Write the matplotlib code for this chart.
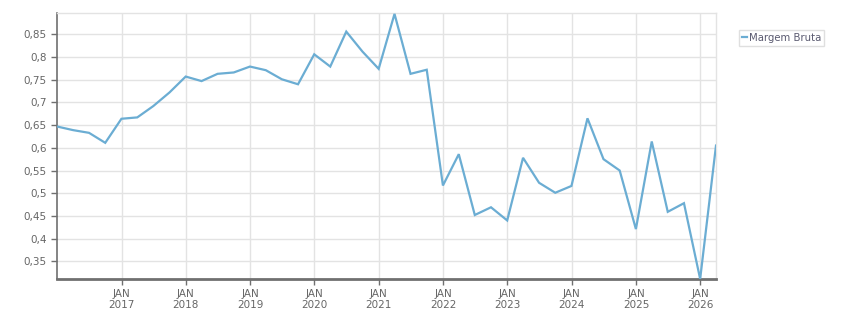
import datetime as dt
import matplotlib
matplotlib.use("Agg")
import matplotlib.pyplot as plt
from matplotlib.ticker import FuncFormatter

# quarterly gross margin, end of quarter from Q4 2015 to Q1 2026
start_year = 2015
start_quarter = 4
margem_bruta = [
    0.647, 0.639, 0.633, 0.611, 0.664, 0.667, 0.692, 0.722, 0.757, 0.747,
    0.763, 0.766, 0.779, 0.771, 0.751, 0.740, 0.806, 0.779, 0.856, 0.812,
    0.774, 0.895, 0.763, 0.772, 0.517, 0.586, 0.452, 0.469, 0.440, 0.578,
    0.523, 0.501, 0.516, 0.665, 0.575, 0.550, 0.421, 0.614, 0.459, 0.478,
    0.311, 0.605,
]
series_label = "Margem Bruta"
tick_years = list(range(2017, 2027))
y_ticks = [0.35, 0.4, 0.45, 0.5, 0.55, 0.6, 0.65, 0.7, 0.75, 0.8, 0.85]


def quarter_end(year, q):
    month = q * 3
    if month == 12:
        return dt.date(year, 12, 31)
    return dt.date(year, month + 1, 1) - dt.timedelta(days=1)


dates = []
y, q = start_year, start_quarter
for _ in margem_bruta:
    dates.append(quarter_end(y, q))
    q += 1
    if q > 4:
        q = 1
        y += 1

fig = plt.figure(figsize=(8.51, 3.13), dpi=100)
ax = fig.add_axes([57 / 851, 34 / 313, 659 / 851, 266 / 313])

line_color = "#6badd3"
grid_color = "#e3e3e3"
text_color = "#666666"
axis_color = "#707070"

ax.plot(dates, margem_bruta, color=line_color, lw=1.6, label=series_label,
        solid_joinstyle="miter", zorder=3)

ax.set_xlim(dates[0], dates[-1])
ax.set_ylim(0.311, 0.897)

ax.set_yticks(y_ticks)
ax.yaxis.set_major_formatter(FuncFormatter(
    lambda v, p: f"{v:.2f}".rstrip("0").rstrip(".").replace(".", ",")))
ax.set_xticks([dt.date(yr, 1, 1) for yr in tick_years])
ax.set_xticklabels([f"JAN\n{yr}" for yr in tick_years])

ax.grid(True, color=grid_color, lw=1)
ax.set_axisbelow(True)

ax.tick_params(axis="both", colors=axis_color, labelcolor=text_color,
               labelsize=7.5, length=4, width=1)
ax.tick_params(axis="x", pad=3)

for s in ("top", "right"):
    ax.spines[s].set_color(grid_color)
    ax.spines[s].set_linewidth(1)
ax.spines["left"].set_color(axis_color)
ax.spines["left"].set_linewidth(1.2)
ax.spines["bottom"].set_color(axis_color)
ax.spines["bottom"].set_linewidth(2)

leg = fig.legend(loc="upper left", bbox_to_anchor=(739 / 851, 1 - 30 / 313),
                 frameon=True, fancybox=False, fontsize=7.3,
                 handlelength=0.5, handletextpad=0.15, borderpad=0.3,
                 borderaxespad=0)
leg.get_frame().set_edgecolor("#d8d8d8")
leg.get_frame().set_linewidth(1)
for t in leg.get_texts():
    t.set_color("#5a5a70")

fig.savefig("out.png", dpi=100)
